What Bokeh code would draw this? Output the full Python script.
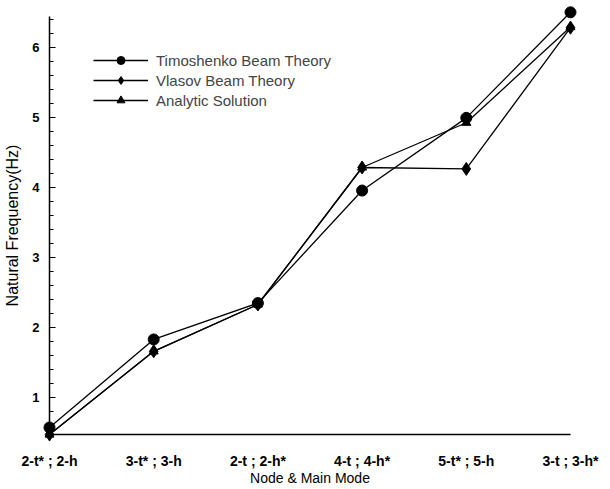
from bokeh.plotting import figure
from bokeh.models import Range1d, FixedTicker, Legend
from bokeh.embed import file_html
from bokeh.resources import INLINE

categories = ["2-t* ; 2-h", "3-t* ; 3-h", "2-t ; 2-h*", "4-t ; 4-h*", "5-t* ; 5-h", "3-t ; 3-h*"]
timoshenko = [0.57, 1.83, 2.35, 3.96, 5.00, 6.51]
vlasov = [0.47, 1.66, 2.33, 4.29, 4.27, 6.29]
analytic = [0.47, 1.66, 2.33, 4.29, 4.93, 6.30]
y_ticks = [1, 2, 3, 4, 5, 6]

xs = list(range(len(categories)))
FONT = "Liberation Sans"

p = figure(width=600, height=488, output_backend="svg", toolbar_location=None,
           x_range=Range1d(0, 5.0), y_range=Range1d(0.47, 6.45),
           min_border_left=49, min_border_right=30, min_border_top=16, min_border_bottom=53)
p.outline_line_color = None
p.grid.visible = False
p.background_fill_color = "white"
p.border_fill_color = "white"

# axes
p.xaxis.ticker = FixedTicker(ticks=xs)
p.xaxis.major_label_overrides = {i: c for i, c in enumerate(categories)}
p.xaxis.major_tick_in = 0
p.xaxis.major_tick_out = 0
p.xaxis.minor_tick_in = 0
p.xaxis.minor_tick_out = 0
p.xaxis.major_label_standoff = 18
p.xaxis.axis_label = "Node & Main Mode"
p.xaxis.axis_label_standoff = -2
p.xaxis.major_label_text_font_size = "14px"
p.xaxis.axis_label_text_font_size = "14px"

p.yaxis.ticker = FixedTicker(ticks=y_ticks, minor_ticks=[v / 5 for v in range(3, 33)])
p.yaxis.major_tick_in = 6
p.yaxis.major_tick_out = 0
p.yaxis.minor_tick_in = 4
p.yaxis.minor_tick_out = 0
p.yaxis.major_label_standoff = 10
p.yaxis.axis_label = "Natural Frequency(Hz)"
p.yaxis.axis_label_standoff = 8
p.yaxis.major_label_text_font_size = "13px"
p.yaxis.axis_label_text_font_size = "16px"

for ax in (p.xaxis, p.yaxis):
    ax.axis_line_color = "black"
    ax.axis_line_width = 1.5
    ax.major_tick_line_color = "black"
    ax.minor_tick_line_color = "black"
    ax.major_tick_line_width = 1.2
    ax.minor_tick_line_width = 1.2
    ax.major_label_text_font = FONT
    ax.major_label_text_font_style = "bold"
    ax.major_label_text_color = "black"
    ax.axis_label_text_font = FONT
    ax.axis_label_text_font_style = "normal"
    ax.axis_label_text_color = "black"

lw = 1.3
l1 = p.line(xs, timoshenko, line_color="black", line_width=lw, level="overlay")
s1 = p.scatter(xs, timoshenko, marker="circle", size=11, color="black", level="overlay")
l2 = p.line(xs, vlasov, line_color="black", line_width=lw, level="overlay")
s2 = p.scatter(xs, vlasov, marker="diamond", size=13, color="black", level="overlay")
l3 = p.line(xs, analytic, line_color="black", line_width=lw, level="overlay")
s3 = p.scatter(xs, analytic, marker="triangle", size=9, color="black", level="overlay")

legend = Legend(items=[("Timoshenko Beam Theory", [l1, s1]),
                       ("Vlasov Beam Theory", [l2, s2]),
                       ("Analytic Solution", [l3, s3])],
                location=(39, 319), padding=5, margin=0, spacing=0,
                glyph_width=55, glyph_height=20, label_height=20, label_standoff=8,
                label_text_font=FONT, label_text_font_size="15px",
                border_line_alpha=0, background_fill_alpha=0)
p.add_layout(legend)

open("out.html", "w").write(file_html(p, INLINE))
